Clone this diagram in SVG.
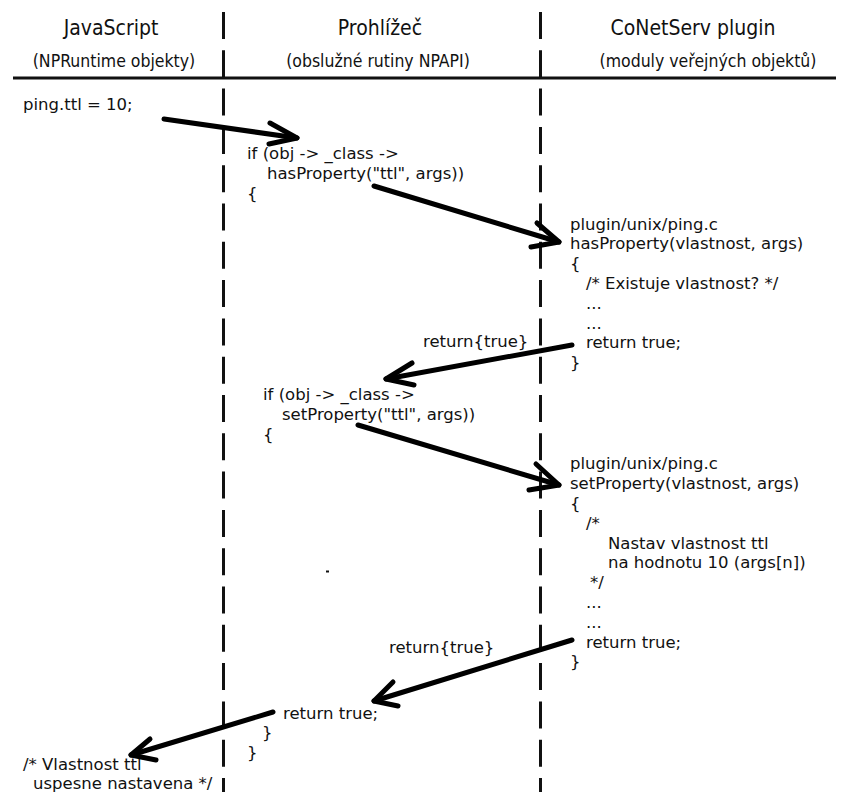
<svg xmlns="http://www.w3.org/2000/svg" width="847" height="792" viewBox="0 0 847 792">
<style>
.hd{font-family:"DejaVu Sans Condensed","DejaVu Sans",sans-serif;font-stretch:condensed;fill:#111;text-anchor:middle}
.t1{font-size:21px}
.t2{font-size:17.5px}
.tx{font-family:"DejaVu Sans",sans-serif;font-size:16.5px;fill:#111}
.life{stroke:#111;stroke-width:3;stroke-dasharray:27 11.3;fill:none}
.arr{stroke:#000;stroke-width:5;stroke-linecap:round;stroke-linejoin:round;fill:none}
</style>
<rect width="847" height="792" fill="#fff"/>
<g id="lifelines">
<line class="life" x1="223.5" y1="12" x2="223.5" y2="792"/>
<line class="life" x1="540.5" y1="12" x2="540.5" y2="792"/>
<line x1="13" y1="78" x2="836" y2="78" stroke="#111" stroke-width="3"/>
</g>
<g id="header">
<text class="hd t1" x="111" y="35">JavaScript</text>
<text class="hd t2" x="114" y="67">(NPRuntime objekty)</text>
<text class="hd t1" x="380" y="35">Prohlížeč</text>
<text class="hd t2" x="378" y="67">(obslužné rutiny NPAPI)</text>
<text class="hd t1" x="693" y="35">CoNetServ plugin</text>
<text class="hd t2" x="708" y="67">(moduly veřejných objektů)</text>
</g>
<g id="js1"><text class="tx" x="23" y="110">ping.ttl = 10;</text></g>
<g id="br1">
<text class="tx" x="247" y="159">if (obj -&gt; _class -&gt;</text>
<text class="tx" x="267" y="179">hasProperty("ttl", args))</text>
<text class="tx" x="247" y="199">{</text>
</g>
<g id="pl1">
<text class="tx" x="570" y="229.5">plugin/unix/ping.c</text>
<text class="tx" x="570" y="249.3">hasProperty(vlastnost, args)</text>
<text class="tx" x="570" y="269">{</text>
<text class="tx" x="586" y="289">/* Existuje vlastnost? */</text>
<text class="tx" x="586" y="308.7">...</text>
<text class="tx" x="586" y="328.5">...</text>
<text class="tx" x="586" y="348.3">return true;</text>
<text class="tx" x="570" y="368">}</text>
</g>
<g id="lbl1"><text class="tx" x="423" y="347">return{true}</text></g>
<g id="br2">
<text class="tx" x="263" y="400">if (obj -&gt; _class -&gt;</text>
<text class="tx" x="282" y="420">setProperty("ttl", args))</text>
<text class="tx" x="263" y="440">{</text>
</g>
<g id="pl2">
<text class="tx" x="570" y="469">plugin/unix/ping.c</text>
<text class="tx" x="570" y="489">setProperty(vlastnost, args)</text>
<text class="tx" x="570" y="509">{</text>
<text class="tx" x="586" y="528.5">/*</text>
<text class="tx" x="608" y="548.5">Nastav vlastnost ttl</text>
<text class="tx" x="608" y="568">na hodnotu 10 (args[n])</text>
<text class="tx" x="590" y="588">*/</text>
<text class="tx" x="586" y="608">...</text>
<text class="tx" x="586" y="628">...</text>
<text class="tx" x="586" y="647.5">return true;</text>
<text class="tx" x="570" y="667">}</text>
</g>
<g id="lbl2"><text class="tx" x="389" y="653">return{true}</text></g>
<g id="br3">
<text class="tx" x="283" y="719">return true;</text>
<text class="tx" x="262" y="738">}</text>
<text class="tx" x="247" y="758">}</text>
</g>
<g id="js2">
<text class="tx" x="23" y="770">/* Vlastnost ttl</text>
<text class="tx" x="33" y="789">uspesne nastavena */</text>
</g>
<g id="connectors">
<line class="arr" x1="164" y1="119" x2="297" y2="138"/>
<polyline class="arr" points="270,123 297,138 269,144"/>
<line class="arr" x1="374" y1="186" x2="559" y2="242"/>
<polyline class="arr" points="537,223 559,242 531,247"/>
<line class="arr" x1="572" y1="345" x2="386" y2="379"/>
<polyline class="arr" points="412,363 386,379 414,385"/>
<line class="arr" x1="358" y1="425" x2="559" y2="485"/>
<polyline class="arr" points="536,464 559,485 529,490"/>
<line class="arr" x1="572" y1="640" x2="374" y2="701"/>
<polyline class="arr" points="393,682 374,701 398,706"/>
<line class="arr" x1="273" y1="712" x2="131" y2="755"/>
<polyline class="arr" points="150,739 131,755 156,760"/>
<line x1="326" y1="571.5" x2="329" y2="571.5" stroke="#111" stroke-width="2"/>
</g>
</svg>
